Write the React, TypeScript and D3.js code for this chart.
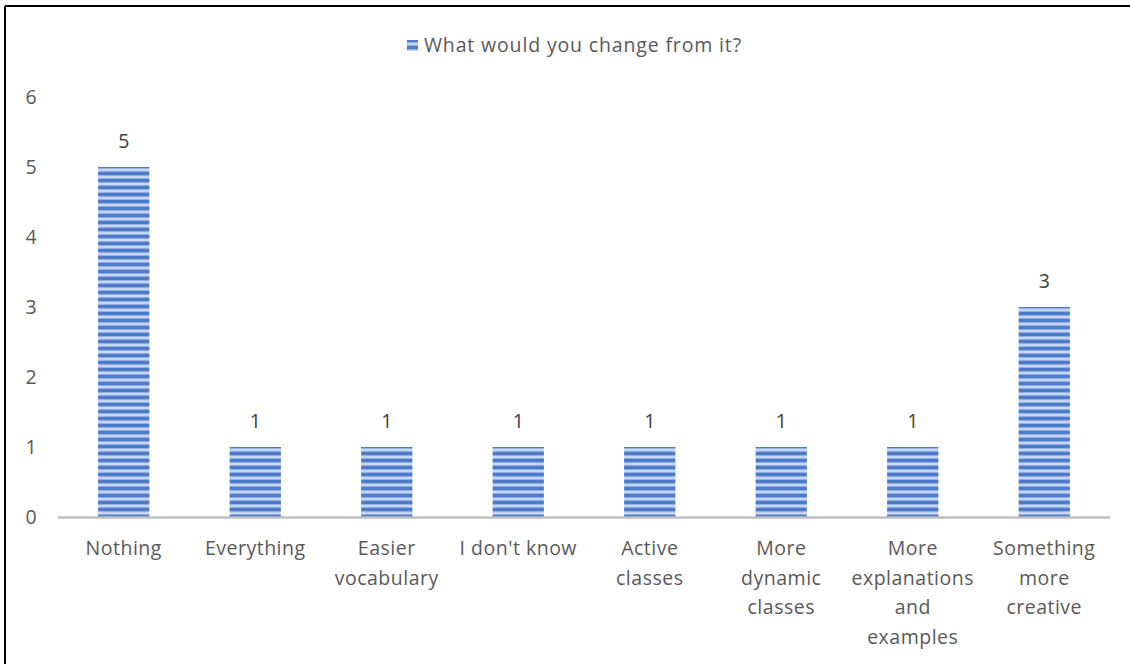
import React from "react";
import * as d3 from "d3";

const categories: string[][] = [
  ["Nothing"],
  ["Everything"],
  ["Easier", "vocabulary"],
  ["I don't know"],
  ["Active", "classes"],
  ["More", "dynamic", "classes"],
  ["More", "explanations", "and", "examples"],
  ["Something", "more", "creative"],
];
const values: number[] = [5, 1, 1, 1, 1, 1, 1, 3];
const yTicks: number[] = [0, 1, 2, 3, 4, 5, 6];
const seriesName = "What would you change from it?";

const W = 1130;
const H = 664;
const plotLeft = 58;
const plotRight = 1110;
const y0 = 517;
const yTop = 97;
const FONT = "'Open Sans', Lato, sans-serif";
const FS = 19.5;
const LS = 0.5;
const TEXT = "#595959";

export default function App() {
  const keys = categories.map((_, i) => String(i));
  const x = d3.scaleBand<string>().domain(keys).range([plotLeft, plotRight]).paddingInner(0.61).paddingOuter(0.305);
  const y = d3.scaleLinear().domain([0, 6]).range([y0, yTop]);

  return (
    <svg width={W} height={H} style={{ position: "absolute", left: 0, top: 0, background: "#fff" }}>
      <defs>
        <pattern id="stripes" patternUnits="userSpaceOnUse" width="8" height="7" x="0" y={y0 - 1}>
          <rect width="8" height="7" fill="#4d7bcc" />
          <rect y="2" width="8" height="1" fill="#94b0e2" />
          <rect y="3" width="8" height="2" fill="#c6d6f2" />
          <rect y="5" width="8" height="1" fill="#94b0e2" />
        </pattern>
      </defs>
      <rect x={0} y={0} width={W} height={H} fill="#fff" />
      <line x1={5} y1={6} x2={W} y2={6} stroke="#000" strokeWidth={2} />
      <line x1={5} y1={6} x2={5} y2={H} stroke="#000" strokeWidth={2} />

      {/* legend */}
      <rect x={407} y={40} width={11} height={11} fill="url(#stripes)" />
      <text x={424} y={52} fontFamily={FONT} fontSize={FS} letterSpacing={0.85} fill={TEXT}>{seriesName}</text>

      {/* y tick labels */}
      {yTicks.map((t) => (
        <text key={t} x={31} y={y(t) + 7} textAnchor="middle" fontFamily={FONT} fontSize={FS} fill={TEXT}>{t}</text>
      ))}

      {/* bars */}
      {values.map((v, i) => (
        <g key={i}>
          <rect x={x(String(i))} y={y(v)} width={x.bandwidth()} height={y(0) - y(v)} fill="url(#stripes)" />
          <text x={(x(String(i)) as number) + x.bandwidth() / 2} y={y(v) - 19} textAnchor="middle" fontFamily={FONT} fontSize={FS} fill="#404040">{v}</text>
        </g>
      ))}

      {/* axis */}
      <line x1={plotLeft} y1={y0 + 0.5} x2={plotRight} y2={y0 + 0.5} stroke="#bfbfbf" strokeWidth={2.5} />

      {/* category labels */}
      {categories.map((lines, i) => (
        <text key={i} textAnchor="middle" fontFamily={FONT} fontSize={FS} letterSpacing={LS} fill={TEXT}>
          {lines.map((l, j) => (
            <tspan key={j} x={(x(String(i)) as number) + x.bandwidth() / 2} y={555 + j * 29.5}>{l}</tspan>
          ))}
        </text>
      ))}
    </svg>
  );
}
